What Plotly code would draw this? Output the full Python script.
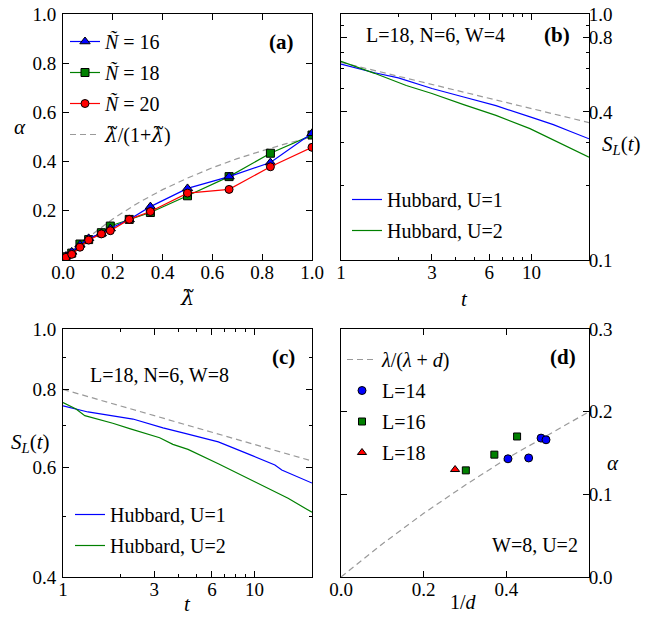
import plotly.graph_objects as go

# ---------------- data ----------------
# panel (a)
lam = [0.012, 0.035, 0.068, 0.103, 0.154, 0.19, 0.266, 0.351, 0.5, 0.667, 0.833, 1.0]
alpha_N16 = [0.016, 0.033, 0.062, 0.088, 0.108, 0.128, 0.165, 0.217, 0.291, 0.339, 0.396, 0.515]
alpha_N18 = [0.013, 0.028, 0.065, 0.083, 0.111, 0.138, 0.165, 0.193, 0.261, 0.339, 0.434, 0.508]
alpha_N20 = [0.011, 0.023, 0.052, 0.081, 0.106, 0.119, 0.165, 0.197, 0.272, 0.287, 0.379, 0.458]
lam_th = [0.0, 0.1, 0.2, 0.3, 0.4, 0.5, 0.6, 0.7, 0.8, 0.9, 1.0]
alpha_th = [0.0, 0.091, 0.167, 0.231, 0.286, 0.333, 0.375, 0.412, 0.444, 0.474, 0.5]

# panel (b)  L=18, N=6, W=4
t_b_u1 = [1, 1.5, 2, 3, 4.4, 6.5, 10, 13, 16, 20]
S_b_u1 = [0.626, 0.577, 0.55, 0.498, 0.460, 0.424, 0.38, 0.355, 0.333, 0.311]
t_b_u2 = [1, 1.5, 2.2, 3, 4.4, 6.5, 9.8, 12.4, 14.6, 20]
S_b_u2 = [0.642, 0.574, 0.512, 0.475, 0.428, 0.387, 0.342, 0.314, 0.294, 0.262]
t_b_th = [1, 20]
S_b_th = [0.636, 0.362]

# panel (c)  L=18, N=6, W=8
t_c_u1 = [1, 1.35, 2.32, 3.33, 4.34, 6.48, 9.68, 12.8, 13.9, 20]
S_c_u1 = [0.753, 0.736, 0.717, 0.694, 0.680, 0.659, 0.627, 0.605, 0.594, 0.566]
t_c_u2 = [1, 1.17, 1.30, 1.82, 2.23, 3.2, 3.75, 4.5, 6.48, 7.9, 9.68, 12.3, 15.0, 20]
S_c_u2 = [0.762, 0.744, 0.726, 0.706, 0.692, 0.669, 0.653, 0.641, 0.608, 0.590, 0.572, 0.551, 0.535, 0.508]
t_c_th = [1, 20]
S_c_th = [0.80, 0.614]

# panel (d)  W=8, U=2
inv_d_th = [0.0, 0.1, 0.2, 0.3, 0.4, 0.5, 0.6]
alpha_d_th = [0.0, 0.04, 0.077, 0.111, 0.143, 0.172, 0.2]
inv_d_L14 = [0.404, 0.454, 0.484, 0.496]
alpha_L14 = [0.143, 0.144, 0.168, 0.166]
inv_d_L16 = [0.302, 0.371, 0.426]
alpha_L16 = [0.129, 0.148, 0.170]
inv_d_L18 = [0.276]
alpha_L18 = [0.130]

# tick labels
lin_ticks_a = [0.0, 0.2, 0.4, 0.6, 0.8, 1.0]
t_ticks = [1, 3, 6, 10]
t_minor = [2, 4, 5, 7, 8, 9]
S_ticks_b = [0.1, 0.4, 0.8, 1.0]
S_minor_b = [0.2, 0.3, 0.5, 0.6, 0.7, 0.9]
S_ticks_c = [0.4, 0.6, 0.8, 1.0]
S_minor_c = [0.5, 0.7, 0.9]
x_ticks_d = [0.0, 0.2, 0.4]
y_ticks_d = [0.0, 0.1, 0.2, 0.3]

# ---------------- styling ----------------
W, H = 662, 630
FONT = "Liberation Serif"
BLUE, GREEN, RED, GRAY = "#0000ff", "#008000", "#ff0000", "#9a9a9a"
DASH = "6px,4px"
LT = "<span style=\"font-family:'DejaVu Serif'\"><i>λ̃</i></span>"


def px_x(p):
    return p / W


def px_y(p):
    return 1 - p / H


xa = [px_x(63), px_x(312)]
xb = [px_x(341), px_x(589)]
ytop = [px_y(260), px_y(14)]
ybot = [px_y(577), px_y(329)]

fig = go.Figure()

# (a)
fig.add_trace(go.Scatter(x=lam_th, y=alpha_th, mode="lines", name=LT + "/(1+" + LT + ")",
                         line=dict(color=GRAY, width=1.2, dash=DASH), xaxis="x", yaxis="y",
                         legend="legend", legendrank=4, legendgroup="a4"))
fig.add_trace(go.Scatter(x=lam, y=alpha_N18, mode="lines+markers", name="<i>Ñ</i> = 18",
                         line=dict(color=GREEN, width=1.2),
                         marker=dict(symbol="square", size=8, color=GREEN, line=dict(color="black", width=1)),
                         xaxis="x", yaxis="y", legend="legend", legendrank=2, legendgroup="a2"))
fig.add_trace(go.Scatter(x=lam, y=alpha_N16, mode="lines+markers", name="<i>Ñ</i> = 16",
                         line=dict(color=BLUE, width=1.2),
                         marker=dict(symbol="triangle-up", size=9, color=BLUE, line=dict(color="black", width=1)),
                         xaxis="x", yaxis="y", legend="legend", legendrank=1, legendgroup="a1"))
fig.add_trace(go.Scatter(x=lam, y=alpha_N20, mode="lines+markers", name="<i>Ñ</i> = 20",
                         line=dict(color=RED, width=1.2),
                         marker=dict(symbol="circle", size=8, color=RED, line=dict(color="black", width=1)),
                         xaxis="x", yaxis="y", legend="legend", legendrank=3, legendgroup="a3"))

# (b)
fig.add_trace(go.Scatter(x=t_b_th, y=S_b_th, mode="lines", showlegend=False,
                         line=dict(color=GRAY, width=1.2, dash=DASH), xaxis="x2", yaxis="y2"))
fig.add_trace(go.Scatter(x=t_b_u1, y=S_b_u1, mode="lines", name="Hubbard, U=1",
                         line=dict(color=BLUE, width=1.2), xaxis="x2", yaxis="y2",
                         legend="legend2", legendgroup="b1"))
fig.add_trace(go.Scatter(x=t_b_u2, y=S_b_u2, mode="lines", name="Hubbard, U=2",
                         line=dict(color=GREEN, width=1.2), xaxis="x2", yaxis="y2",
                         legend="legend2", legendgroup="b2"))

# (c)
fig.add_trace(go.Scatter(x=t_c_th, y=S_c_th, mode="lines", showlegend=False,
                         line=dict(color=GRAY, width=1.2, dash=DASH), xaxis="x3", yaxis="y3"))
fig.add_trace(go.Scatter(x=t_c_u1, y=S_c_u1, mode="lines", name="Hubbard, U=1",
                         line=dict(color=BLUE, width=1.2), xaxis="x3", yaxis="y3",
                         legend="legend3", legendgroup="c1"))
fig.add_trace(go.Scatter(x=t_c_u2, y=S_c_u2, mode="lines", name="Hubbard, U=2",
                         line=dict(color=GREEN, width=1.2), xaxis="x3", yaxis="y3",
                         legend="legend3", legendgroup="c2"))

# (d)
fig.add_trace(go.Scatter(x=inv_d_th, y=alpha_d_th, mode="lines", name="<i>λ</i>/(<i>λ</i> + <i>d</i>)",
                         line=dict(color=GRAY, width=1.2, dash=DASH), xaxis="x4", yaxis="y4",
                         legend="legend4", legendgroup="d0"))
fig.add_trace(go.Scatter(x=inv_d_L14, y=alpha_L14, mode="markers", name="L=14",
                         marker=dict(symbol="circle", size=8, color=BLUE, line=dict(color="black", width=1)),
                         xaxis="x4", yaxis="y4", legend="legend4", legendgroup="d1"))
fig.add_trace(go.Scatter(x=inv_d_L16, y=alpha_L16, mode="markers", name="L=16",
                         marker=dict(symbol="square", size=7, color=GREEN, line=dict(color="black", width=1)),
                         xaxis="x4", yaxis="y4", legend="legend4", legendgroup="d2"))
fig.add_trace(go.Scatter(x=inv_d_L18, y=alpha_L18, mode="markers", name="L=18",
                         marker=dict(symbol="triangle-up", size=8, color=RED, line=dict(color="black", width=1)),
                         xaxis="x4", yaxis="y4", legend="legend4", legendgroup="d3"))

tickfont = dict(family=FONT, size=19, color="black")
base = dict(showline=True, linecolor="black", linewidth=1, mirror="ticks", ticks="inside",
            ticklen=6, tickcolor="black", tickwidth=1, showgrid=False, zeroline=False,
            tickfont=tickfont, automargin=False, ticklabeloverflow="allow")
XS = dict(ticklabelstandoff=-5)
YL = dict(ticklabelstandoff=2)
YR = dict(ticklabelstandoff=-5)


def minor(vals):
    return dict(tickmode="array", tickvals=vals, ticks="inside", ticklen=3, tickcolor="black", showgrid=False)


def fmt1(v):
    return f"{v:.1f}"


legfont = dict(family=FONT, size=20, color="black")


def leg(xp, ytopp):
    return dict(x=px_x(xp), y=px_y(ytopp), xanchor="left", yanchor="top", font=legfont,
                bgcolor="rgba(0,0,0,0)", borderwidth=0, tracegroupgap=2, itemwidth=30)


fig.update_layout(
    template="none",
    width=W, height=H, margin=dict(l=0, r=0, t=0, b=0, autoexpand=False),
    paper_bgcolor="white", plot_bgcolor="white",
    font=dict(family=FONT, size=19, color="black"),
    xaxis=dict(base, **XS, domain=xa, anchor="y", range=[0, 1], tickvals=lin_ticks_a,
               ticktext=[fmt1(v) for v in lin_ticks_a]),
    yaxis=dict(base, **YL, domain=ytop, anchor="x", range=[0, 1], tickvals=lin_ticks_a[1:],
               ticktext=[fmt1(v) for v in lin_ticks_a[1:]]),
    xaxis2=dict(base, **XS, domain=xb, anchor="y2", type="log", range=[0, 1.30103], tickvals=t_ticks,
                ticktext=[str(v) for v in t_ticks], minor=minor(t_minor)),
    yaxis2=dict(base, **YR, domain=ytop, anchor="x2", side="right", type="log", range=[-1, 0],
                tickvals=S_ticks_b, ticktext=[fmt1(v) for v in S_ticks_b], minor=minor(S_minor_b)),
    xaxis3=dict(base, **XS, domain=xa, anchor="y3", type="log", range=[0, 1.30103], tickvals=t_ticks,
                ticktext=[str(v) for v in t_ticks], minor=minor(t_minor)),
    yaxis3=dict(base, **YL, domain=ybot, anchor="x3", type="log", range=[-0.39794, 0],
                tickvals=S_ticks_c, ticktext=[fmt1(v) for v in S_ticks_c], minor=minor(S_minor_c)),
    xaxis4=dict(base, **XS, domain=xb, anchor="y4", range=[0, 0.6], tickvals=x_ticks_d,
                ticktext=[fmt1(v) for v in x_ticks_d]),
    yaxis4=dict(base, **YR, domain=ybot, anchor="x4", side="right", range=[0, 0.3], tickvals=y_ticks_d,
                ticktext=[fmt1(v) for v in y_ticks_d]),
    legend=leg(65, 22),
    legend2=leg(347, 180),
    legend3=leg(70, 495),
    legend4=leg(342, 340),
)

anns = [
    ("<i>α</i>", 20, 127, 21),
    (LT, 187, 298, 21),
    ("<i>S</i><sub><i>L</i></sub>(<i>t</i>)", 621, 145, 21),
    ("<i>t</i>", 464, 299, 21),
    ("<i>S</i><sub><i>L</i></sub>(<i>t</i>)", 30, 443, 21),
    ("<i>t</i>", 187, 604, 21),
    ("<i>α</i>", 613, 463, 21),
    ("1/<i>d</i>", 463, 602, 20),
    ("<b>(a)</b>", 281, 42, 21),
    ("<b>(b)</b>", 557, 35, 21),
    ("<b>(c)</b>", 283, 357, 21),
    ("<b>(d)</b>", 563, 357, 21),
    ("L=18, N=6, W=4", 436, 35, 20),
    ("L=18, N=6, W=8", 159, 375, 20),
    ("W=8, U=2", 535, 545, 20),
]
for text, x, y, size in anns:
    fig.add_annotation(text=text, x=px_x(x), y=px_y(y), xref="paper", yref="paper",
                       showarrow=False, xanchor="center", yanchor="middle",
                       font=dict(family=FONT, size=size, color="black"))

fig.write_html("out.html", config={"displayModeBar": False},
               post_script="document.body.style.margin='0';")
